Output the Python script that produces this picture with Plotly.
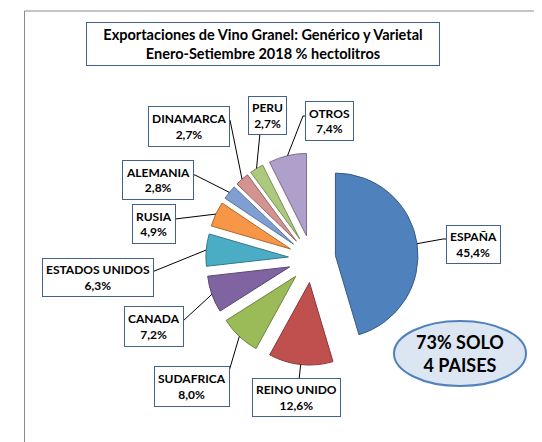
import math
import plotly.graph_objects as go

# ---------------- data ----------------
COUNTRIES = ["ESPAÑA", "REINO UNIDO", "SUDAFRICA", "CANADA", "ESTADOS UNIDOS",
             "RUSIA", "ALEMANIA", "DINAMARCA", "PERU", "OTROS"]
SHARES = [45.4, 12.6, 8.0, 7.2, 6.3, 4.9, 2.8, 2.7, 2.7, 7.4]
SHARE_LABELS = ["45,4%", "12,6%", "8,0%", "7,2%", "6,3%", "4,9%", "2,8%", "2,7%", "2,7%", "7,4%"]
TITLE_LINES = ["Exportaciones de Vino Granel: Genérico y Varietal",
               "Enero-Setiembre 2018 % hectolitros"]
CALLOUT_LINES = ["73% SOLO", "4 PAISES"]

# ---------------- style / layout ----------------
COLORS = ["#4F81BD", "#C0504D", "#9BBB59", "#8064A2", "#4BACC6",
          "#F79646", "#7F9FD2", "#D39391", "#ADC97E", "#AE9FCB"]
EDGE = ["#375a85", "#86383a", "#6c833e", "#5a4671", "#34788a",
        "#ad6931", "#5a73a0", "#9a6564", "#7a9057", "#7a6f8f"]

W, H = 542, 442
PIE_C = (304, 251)      # pixel centre of the (unpulled) pie
PIE_R = 82.5            # pixel radius
PULL = 0.287
FONT = "Lato"
BOX_LINE = "#41618f"

# label boxes (pixel x0, y0, x1, y1) and leader-line points after the slice anchor
LABEL_BOX = [
    (440, 219, 491, 254), (247, 372, 330, 407), (148, 360, 219, 397),
    (117, 300, 174, 337), (37, 252, 143, 287), (125, 198, 167, 234),
    (116, 154, 183, 190), (143, 100, 219, 137), (241, 90, 277, 125),
    (299, 95, 343, 131),
]
LEADER_PTS = [
    [(435, 231), (440, 231)], [(291, 372)], [(219, 370)], [(175, 313)],
    [(144, 264)], [(167, 211)], [(187, 167), (183, 167)],
    [(222, 112), (219, 112)], [(252, 125)], [(295, 108), (299, 108)],
]


def px(x):
    return x / W


def py(y):
    return 1 - y / H


D = 2 * PIE_R * (1 + PULL)
dom_x = [px(PIE_C[0] - D / 2), px(PIE_C[0] + D / 2)]
dom_y = [py(PIE_C[1] + D / 2), py(PIE_C[1] - D / 2)]

fig = go.Figure(go.Pie(
    labels=COUNTRIES, values=SHARES, sort=False, direction="clockwise",
    rotation=0, pull=[PULL] * len(SHARES), textinfo="none", hoverinfo="label+percent",
    marker=dict(colors=COLORS, line=dict(color=EDGE, width=1)),
    domain=dict(x=dom_x, y=dom_y), showlegend=False,
))

shapes = []
annotations = []

# frame
shapes.append(dict(type="line", xref="paper", yref="paper", x0=px(16.5), x1=px(16.5),
                   y0=py(3), y1=py(H), line=dict(color="#8c8c8c", width=1)))
shapes.append(dict(type="line", xref="paper", yref="paper", x0=px(16.5), x1=px(W),
                   y0=py(3), y1=py(3), line=dict(color="#8c8c8c", width=1)))

# leader lines + label boxes, anchored on the slice arcs computed from the values
total = sum(SHARES)
cum = 0.0
for i, v in enumerate(SHARES):
    theta = 2 * math.pi * (cum + v / 2) / total
    cum += v
    ax = PIE_C[0] + PIE_R * (1 + PULL) * math.sin(theta)
    ay = PIE_C[1] - PIE_R * (1 + PULL) * math.cos(theta)
    pts = [(ax, ay)] + LEADER_PTS[i]
    path = "M " + " L ".join(f"{px(x):.5f},{py(y):.5f}" for x, y in pts)
    shapes.append(dict(type="path", xref="paper", yref="paper", path=path,
                       line=dict(color="#000000", width=1)))
    x0, y0, x1, y1 = LABEL_BOX[i]
    annotations.append(dict(
        xref="paper", yref="paper", x=px((x0 + x1) / 2), y=py((y0 + y1) / 2),
        xanchor="center", yanchor="middle", showarrow=False,
        text=f"<b>{COUNTRIES[i]}</b><br><b>{SHARE_LABELS[i]}</b>",
        font=dict(family=FONT, size=12, color="#000000"),
        height=(y1 - y0) - 4, borderpad=3, borderwidth=1,
        bordercolor=BOX_LINE, bgcolor="#ffffff", align="center",
    ))

# title box
annotations.append(dict(
    xref="paper", yref="paper", x=px(255), y=py(36), xanchor="center", yanchor="middle",
    showarrow=False, text="<b>" + "</b><br><b>".join(TITLE_LINES) + "</b>",
    font=dict(family=FONT, size=14.5, color="#000000"),
    width=354 - 4, height=44 - 4, borderpad=1, borderwidth=1,
    bordercolor=BOX_LINE, bgcolor="#ffffff", align="center",
))

# callout ellipse
shapes.append(dict(type="circle", xref="paper", yref="paper", x0=px(386), x1=px(518),
                   y0=py(378), y1=py(313), fillcolor="#DCE6F2",
                   line=dict(color="#4F81BD", width=2), layer="above"))
annotations.append(dict(
    xref="paper", yref="paper", x=px(452), y=py(345), xanchor="center", yanchor="middle",
    showarrow=False, text="<b>" + "</b><br><b>".join(CALLOUT_LINES) + "</b>",
    font=dict(family=FONT, size=18, color="#000000"), align="center",
))

fig.update_layout(
    width=W, height=H, margin=dict(l=0, r=0, t=0, b=0),
    paper_bgcolor="#ffffff", plot_bgcolor="#ffffff",
    shapes=shapes, annotations=annotations,
)

fig.write_html("out.html")
